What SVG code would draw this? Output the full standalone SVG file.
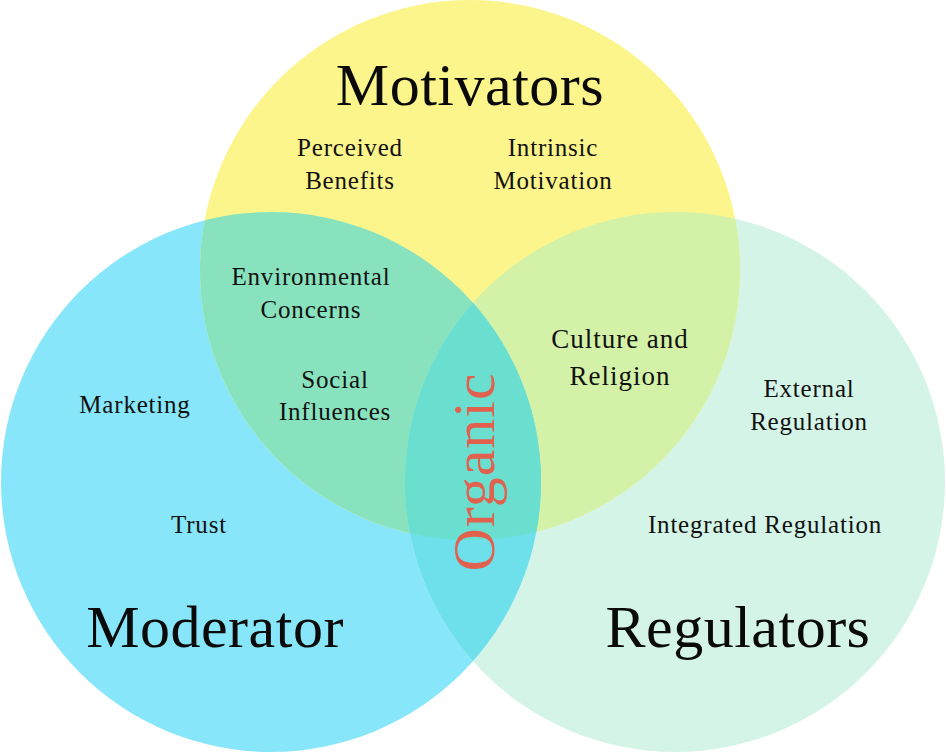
<svg xmlns="http://www.w3.org/2000/svg" width="946" height="753" viewBox="0 0 946 753">
<style>
.lbl{font-family:"Liberation Serif","DejaVu Serif",serif;font-size:25px;letter-spacing:0.8px;fill:#111;text-anchor:middle}
.big{font-family:"Liberation Serif","DejaVu Serif",serif;font-size:60px;letter-spacing:0.5px;fill:#0a0a0a;text-anchor:middle}
.org{font-family:"Liberation Serif","DejaVu Serif",serif;font-size:60px;letter-spacing:1px;fill:#E2604E;text-anchor:middle}
</style>
<defs>
<clipPath id="cY"><circle cx="470" cy="270" r="270"/></clipPath>
<clipPath id="cG"><circle cx="675" cy="482" r="270"/></clipPath>
</defs>
<rect width="946" height="753" fill="#ffffff"/>
<g id="circles">
<circle id="moderator-circle" cx="271" cy="482" r="270" fill="#88E6FA"/>
<circle id="regulators-circle" cx="675" cy="482" r="270" fill="#D4F4E7"/>
<circle id="motivators-circle" cx="470" cy="270" r="270" fill="#FCF58B"/>
<circle cx="271" cy="482" r="270" fill="#89E2BE" clip-path="url(#cY)"/>
<circle cx="675" cy="482" r="270" fill="#D3F1A7" clip-path="url(#cY)"/>
<circle cx="271" cy="482" r="270" fill="#6EE0EC" clip-path="url(#cG)"/>
<g clip-path="url(#cY)"><circle cx="271" cy="482" r="270" fill="#6BDFCF" clip-path="url(#cG)"/></g>
</g>
<g id="motivators">
<text class="big" x="470" y="105">Motivators</text>
<text class="lbl" x="350" y="156">Perceived</text>
<text class="lbl" x="350" y="189">Benefits</text>
<text class="lbl" x="553" y="156">Intrinsic</text>
<text class="lbl" x="553" y="189">Motivation</text>
</g>
<g id="overlap-mot-mod">
<text class="lbl" x="311" y="285">Environmental</text>
<text class="lbl" x="311" y="318">Concerns</text>
<text class="lbl" x="335" y="388">Social</text>
<text class="lbl" x="335" y="420">Influences</text>
</g>
<g id="overlap-mot-reg">
<text class="lbl" x="620" y="348" style="font-size:27px;letter-spacing:1px">Culture and</text>
<text class="lbl" x="620" y="385" style="font-size:27px;letter-spacing:1px">Religion</text>
</g>
<g id="moderator">
<text class="lbl" x="135" y="413">Marketing</text>
<text class="lbl" x="199" y="533">Trust</text>
<text class="big" x="215" y="647">Moderator</text>
</g>
<g id="regulators">
<text class="lbl" x="809" y="397">External</text>
<text class="lbl" x="809" y="430">Regulation</text>
<text class="lbl" x="765" y="533">Integrated Regulation</text>
<text class="big" x="738" y="647">Regulators</text>
</g>
<g id="organic">
<text class="org" transform="translate(494,472) rotate(-90)">Organic</text>
</g>
<g id="connectors"/>
</svg>
